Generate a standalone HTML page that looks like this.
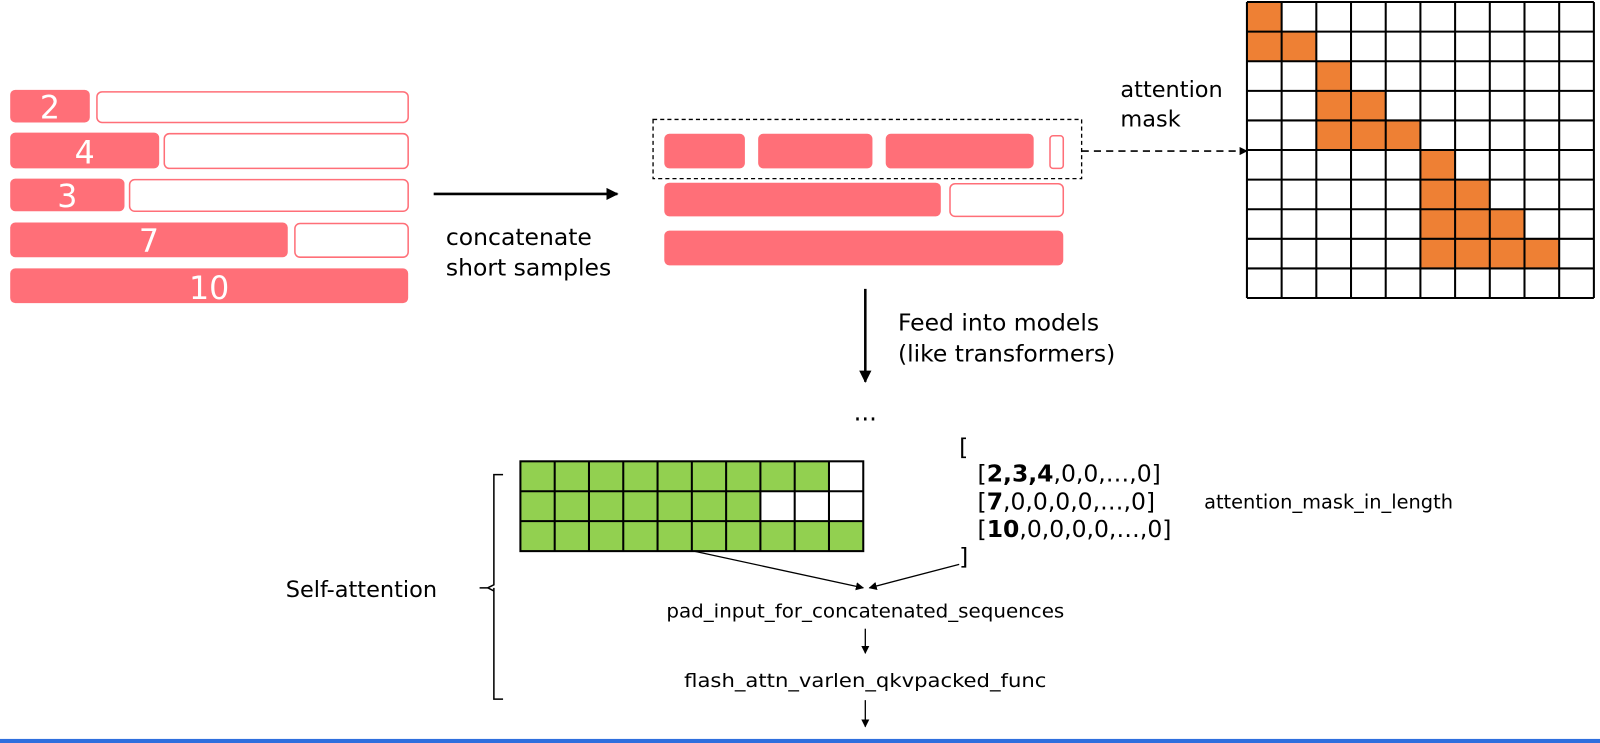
<!DOCTYPE html>
<html><head><meta charset="utf-8"><style>
html,body{margin:0;padding:0;background:#fff;}
svg{display:block;}
text{font-family:"DejaVu Sans","Liberation Sans",sans-serif;fill:#000;}
</style></head><body>
<svg width="1600" height="743" viewBox="0 0 1568 728" preserveAspectRatio="none" xmlns="http://www.w3.org/2000/svg">
<defs>
<marker id="ah" viewBox="0 0 10 10" refX="9" refY="5" markerWidth="8" markerHeight="8" markerUnits="userSpaceOnUse" orient="auto"><path d="M0,0L10,5L0,10z" fill="#000"/></marker>
<marker id="ahb" viewBox="0 0 10 10" refX="9" refY="5" markerWidth="12" markerHeight="12" markerUnits="userSpaceOnUse" orient="auto"><path d="M0,0L10,5L0,10z" fill="#000"/></marker>
</defs>
<g fill="#ff6f78">
<rect x="10" y="88" width="78" height="32" rx="5"/>
<rect x="10" y="130" width="146" height="35" rx="5"/>
<rect x="10" y="175" width="112" height="32" rx="5"/>
<rect x="10" y="218" width="272" height="34" rx="5"/>
<rect x="10" y="263" width="390" height="34" rx="5"/>
<rect x="651" y="131" width="79" height="34" rx="5"/>
<rect x="743" y="131" width="112" height="34" rx="5"/>
<rect x="868" y="131" width="145" height="34" rx="5"/>
<rect x="651" y="179" width="271" height="33" rx="5"/>
<rect x="651" y="226" width="391" height="34" rx="5"/>
</g>
<g fill="none" stroke="#ff6f78" stroke-width="1.5">
<rect x="95" y="90" width="305" height="30" rx="5"/>
<rect x="161" y="131" width="239" height="34" rx="5"/>
<rect x="127" y="176" width="273" height="31" rx="5"/>
<rect x="289" y="219" width="111" height="33" rx="5"/>
<rect x="1029" y="133" width="13" height="32" rx="3"/>
<rect x="931" y="180" width="111" height="32" rx="5"/>
</g>
<g font-size="31" text-anchor="middle">
<text x="49" y="116" style="fill:#fff">2</text>
<text x="83" y="160" style="fill:#fff">4</text>
<text x="66" y="203" style="fill:#fff">3</text>
<text x="146" y="247" style="fill:#fff">7</text>
<text x="205" y="293" style="fill:#fff">10</text>
</g>
<line x1="425" y1="190" x2="605" y2="190" stroke="#000" stroke-width="2.5" marker-end="url(#ahb)"/>
<text x="437" y="240" font-size="23">concatenate</text>
<text x="437" y="270" font-size="23">short samples</text>
<rect x="640" y="117" width="420" height="58" fill="none" stroke="#000" stroke-width="1.3" stroke-dasharray="4,3"/>
<line x1="1060" y1="148" x2="1222" y2="148" stroke="#000" stroke-width="1.5" stroke-dasharray="7,5" marker-end="url(#ah)"/>
<text x="1098" y="95" font-size="22">attention</text>
<text x="1098" y="124" font-size="22">mask</text>
<g fill="#ee8034">
<rect x="1222" y="2" width="34" height="29"/>
<rect x="1222" y="31" width="68" height="29"/>
<rect x="1290" y="60" width="34" height="29"/>
<rect x="1290" y="89" width="68" height="29"/>
<rect x="1290" y="118" width="102" height="29"/>
<rect x="1392" y="147" width="34" height="29"/>
<rect x="1392" y="176" width="68" height="29"/>
<rect x="1392" y="205" width="102" height="29"/>
<rect x="1392" y="234" width="136" height="29"/>
</g>
<g stroke="#000" stroke-width="2">
<path d="M1222,2V292M1256,2V292M1290,2V292M1324,2V292M1358,2V292M1392,2V292M1426,2V292M1460,2V292M1494,2V292M1528,2V292M1562,2V292"/>
<path d="M1222,2H1562M1222,31H1562M1222,60H1562M1222,89H1562M1222,118H1562M1222,147H1562M1222,176H1562M1222,205H1562M1222,234H1562M1222,263H1562M1222,292H1562"/>
</g>
<line x1="848" y1="283" x2="848" y2="374" stroke="#000" stroke-width="2.5" marker-end="url(#ahb)"/>
<text x="880" y="324" font-size="23">Feed into models</text>
<text x="880" y="354" font-size="23">(like transformers)</text>
<text x="848" y="412" font-size="24" text-anchor="middle">...</text>
<rect x="510" y="452" width="336" height="88" fill="#92d050"/>
<rect x="812.4" y="452" width="33.6" height="29.3" fill="#fff"/>
<rect x="745.2" y="481.3" width="100.8" height="29.3" fill="#fff"/>
<g stroke="#000" stroke-width="2" fill="none">
<rect x="510" y="452" width="336" height="88"/>
<path d="M543.6,452V540M577.2,452V540M610.8,452V540M644.4,452V540M678,452V540M711.6,452V540M745.2,452V540M778.8,452V540M812.4,452V540M510,481.3H846M510,510.6H846"/>
</g>
<g font-size="23">
<text x="940" y="446">[</text>
<text x="958" y="472">[<tspan font-weight="bold">2,3,4</tspan>,0,0,…,0]</text>
<text x="958" y="499">[<tspan font-weight="bold">7</tspan>,0,0,0,0,…,0]</text>
<text x="958" y="526">[<tspan font-weight="bold">10</tspan>,0,0,0,0,…,0]</text>
<text x="940" y="553">]</text>
</g>
<text x="1180" y="498" font-size="19">attention_mask_in_length</text>
<line x1="680" y1="540" x2="846" y2="576" stroke="#000" stroke-width="1.3" marker-end="url(#ah)"/>
<line x1="940" y1="553" x2="852" y2="576" stroke="#000" stroke-width="1.3" marker-end="url(#ah)"/>
<text x="848" y="605" font-size="18" text-anchor="middle" textLength="390" lengthAdjust="spacingAndGlyphs">pad_input_for_concatenated_sequences</text>
<line x1="848" y1="616" x2="848" y2="640" stroke="#000" stroke-width="1.3" marker-end="url(#ah)"/>
<text x="848" y="673" font-size="18" text-anchor="middle" textLength="355" lengthAdjust="spacingAndGlyphs">flash_attn_varlen_qkvpacked_func</text>
<line x1="848" y1="686" x2="848" y2="712" stroke="#000" stroke-width="1.3" marker-end="url(#ah)"/>
<path d="M493,465H484V573L478,576H470M484,576V685H493" fill="none" stroke="#000" stroke-width="1.5"/>
<path d="M478,576L484,579" fill="none" stroke="#000" stroke-width="1.5"/>
<text x="280" y="585" font-size="22">Self-attention</text>
<rect x="0" y="724" width="1568" height="4" fill="#2f6fde"/>
</svg>
</body></html>
